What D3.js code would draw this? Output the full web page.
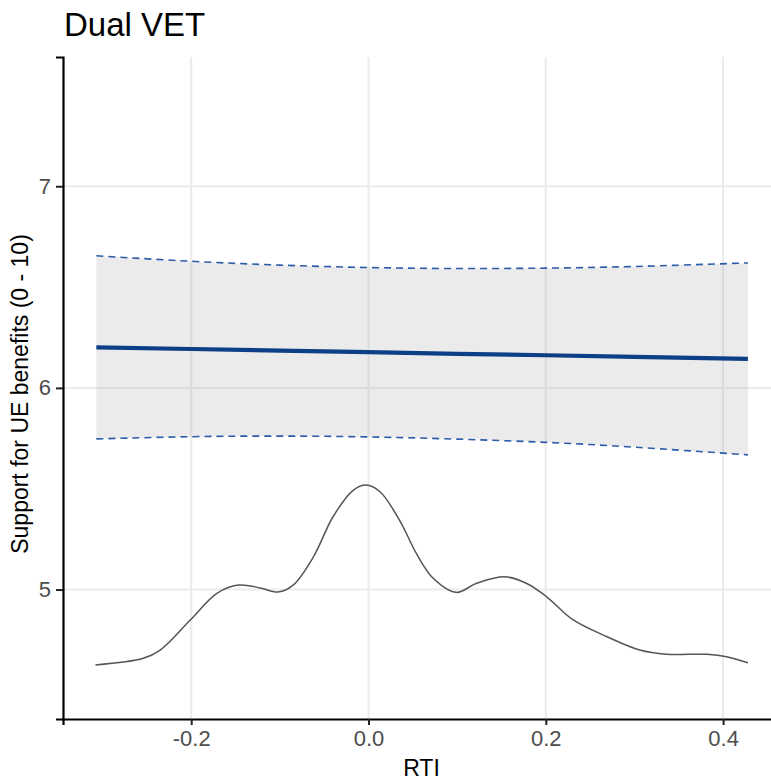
<!DOCTYPE html>
<html>
<head>
<meta charset="utf-8">
<script src="https://cdn.jsdelivr.net/npm/d3@7"></script>
<style>
  body { margin: 0; background: #fff; }
  svg { display: block; font-family: "Liberation Sans", Arial, sans-serif; }
</style>
</head>
<body>
<script>
// marginal effect of RTI: fitted line and 95% interval
const rti = [-0.307, -0.2, -0.1, 0, 0.1, 0.2, 0.3, 0.428];
const fit = [6.201, 6.193, 6.185, 6.177, 6.169, 6.162, 6.154, 6.144];
const upper = [6.655, 6.628, 6.609, 6.597, 6.592, 6.594, 6.602, 6.620];
const lower = [5.747, 5.758, 5.761, 5.757, 5.746, 5.730, 5.706, 5.668];

// density of RTI drawn on the bottom of the panel
const densX = [-0.308, -0.254, -0.235, -0.201, -0.171, -0.147, -0.122, -0.102, -0.085, -0.062,
  -0.040, -0.017, -0.003, 0.013, 0.036, 0.054, 0.073, 0.099, 0.122, 0.154,
  0.178, 0.201, 0.231, 0.269, 0.306, 0.336, 0.382, 0.404, 0.428];
const densY = [4.626, 4.659, 4.700, 4.849, 4.981, 5.022, 5.008, 4.988, 5.022, 5.163,
  5.361, 5.493, 5.518, 5.485, 5.336, 5.179, 5.056, 4.986, 5.031, 5.063,
  5.031, 4.964, 4.849, 4.766, 4.700, 4.679, 4.679, 4.667, 4.637];

const xTicks = [-0.2, 0, 0.2, 0.4];
const yTicks = [5, 6, 7];

const width = 771, height = 782;
const mLeft = 63, mRight = 780, mTop = 57, mBottom = 719;

const x = d3.scaleLinear().domain([-0.3446, 0.4642]).range([mLeft, mRight]);
const y = d3.scaleLinear().domain([4.358, 7.641]).range([mBottom, mTop]);

const svg = d3.select("body").append("svg")
  .attr("width", width)
  .attr("height", height);

// grid
svg.append("g").selectAll("line").data(xTicks).join("line")
  .attr("x1", d => x(d)).attr("x2", d => x(d))
  .attr("y1", mTop).attr("y2", mBottom)
  .attr("stroke", "#ebebeb").attr("stroke-width", 2);
svg.append("g").selectAll("line").data(yTicks).join("line")
  .attr("x1", mLeft).attr("x2", mRight)
  .attr("y1", d => y(d)).attr("y2", d => y(d))
  .attr("stroke", "#ebebeb").attr("stroke-width", 2);

const rows = rti.map((r, i) => ({ r, f: fit[i], lo: lower[i], hi: upper[i] }));

// ribbon
svg.append("path")
  .datum(rows)
  .attr("d", d3.area().x(d => x(d.r)).y0(d => y(d.lo)).y1(d => y(d.hi)).curve(d3.curveNatural))
  .attr("fill", "#999999").attr("fill-opacity", 0.2);

// interval bounds
["hi", "lo"].forEach(k => {
  svg.append("path")
    .datum(rows)
    .attr("d", d3.line().x(d => x(d.r)).y(d => y(d[k])).curve(d3.curveNatural))
    .attr("fill", "none")
    .attr("stroke", "#2b5ca8").attr("stroke-width", 1.6)
    .attr("stroke-dasharray", "7,5");
});

// fitted line
svg.append("path")
  .datum(rows)
  .attr("d", d3.line().x(d => x(d.r)).y(d => y(d.f)))
  .attr("fill", "none")
  .attr("stroke", "#0c3f85").attr("stroke-width", 4.2);

// density
svg.append("path")
  .datum(d3.zip(densX, densY))
  .attr("d", d3.line().x(d => x(d[0])).y(d => y(d[1])).curve(d3.curveCatmullRom))
  .attr("fill", "none")
  .attr("stroke", "#555555").attr("stroke-width", 1.5);

// axes
const fmt = d => d3.format(".1f")(d).replace("\u2212", "-");
const xAxis = svg.append("g")
  .attr("transform", `translate(0,${mBottom})`)
  .call(d3.axisBottom(x).tickValues(xTicks).tickFormat(fmt).tickSizeOuter(0).tickSize(6).tickPadding(5));
const yAxis = svg.append("g")
  .attr("transform", `translate(${mLeft},0)`)
  .call(d3.axisLeft(y).tickValues(yTicks).tickFormat(d3.format("d")).tickSizeOuter(0).tickSize(7).tickPadding(5));

[xAxis, yAxis].forEach(g => {
  g.select(".domain").attr("stroke", "#000").attr("stroke-width", 2.2);
  g.selectAll(".tick line").attr("stroke", "#222").attr("stroke-width", 2);
  g.selectAll(".tick text").attr("fill", "#4d4d4d").style("font-size", "22px")
    .style("font-family", "'Liberation Sans', Arial, sans-serif");
});

// titles
svg.append("text")
  .attr("x", 64).attr("y", 36)
  .style("font-size", "33px")
  .attr("fill", "#000")
  .text("Dual VET");

svg.append("text")
  .attr("x", (mLeft + mRight) / 2).attr("y", 776)
  .attr("text-anchor", "middle")
  .style("font-size", "23px")
  .text("RTI");

svg.append("text")
  .attr("transform", "translate(28,394) rotate(-90)")
  .attr("text-anchor", "middle")
  .style("font-size", "23px")
  .text("Support for UE benefits (0 - 10)");
</script>
</body>
</html>
